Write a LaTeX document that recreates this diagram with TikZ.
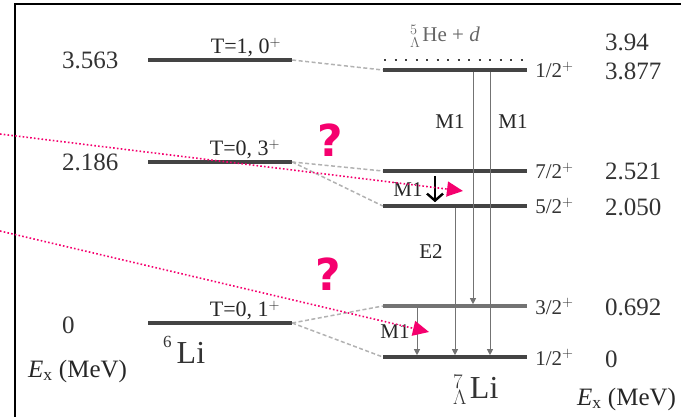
\documentclass[tikz,border=0pt]{standalone}
\usepackage{fontspec}
\setmainfont{Liberation Serif}
\newfontfamily\qmarkfont{DejaVu Sans}
\usepackage{tikz}
\usetikzlibrary{arrows.meta,positioning,calc}
\usepackage{xcolor}
\definecolor{qpink}{RGB}{245,0,110}
\definecolor{lvlgray}{RGB}{68,68,68}
\newcommand{\setfs}[1]{\fontsize{#1}{#1}\selectfont}
\tikzset{
  lvl/.style   ={rectangle, fill=lvlgray, minimum width=144pt,
                 minimum height=3.2pt, inner sep=0pt},
  thr/.style   ={line width=2pt, dash pattern=on 2pt off 8.5pt, draw=black!75},
  lnk/.style   ={draw=black!30, line width=1.5pt, dash pattern=on 4pt off 2.5pt},
  trans/.style ={draw=black!55, line width=0.9pt, -{Triangle[length=6pt,width=6pt]}},
  bigarr/.style={draw=black, line width=2.4pt, -{Straight Barb[length=7pt,width=16pt]}},
  qline/.style ={draw=qpink, line width=1.6pt, dash pattern=on 1.6pt off 2.2pt,
                 -{Triangle[length=16pt,width=15pt]}},
  elab/.style  ={font=\setfs{25}, text=black!80, inner sep=0pt},
  jlab/.style  ={font=\setfs{21}, text=black!80, inner sep=0pt},
  tlab/.style  ={font=\setfs{22}, text=black!85, inner sep=0pt},
  mlab/.style  ={font=\setfs{21}, text=black!85, inner sep=0pt},
  qmark/.style ={font=\qmarkfont\bfseries\setfs{44}, text=qpink, inner sep=0pt},
}

\begin{document}
\begin{tikzpicture}[x=1pt, y=-1pt]
  \useasboundingbox (0,0) rectangle (681,417);
  \draw[line width=2pt] (15,417) -- (15,4) -- (681,4);

  % 6Li levels
  \node[lvl] (li3) at (220,60)  {};
  \node[lvl] (li2) at (220,162) {};
  \node[lvl] (li0) at (220,323) {};
  % 7ΛLi levels
  \node[lvl] (ym) at (455,70)  {};
  \node[lvl] (yf) at (455,171) {};
  \node[lvl] (ye) at (455,206) {};
  \node[lvl, fill=black!55] (yc) at (455,306) {};
  \node[lvl] (yg) at (455,357) {};
  \coordinate (thrL) at (384,60);
  \coordinate (thrR) at (524,60);
  \draw[thr] (thrL) -- (thrR);

  % correspondence
  \draw[lnk] (li3.east) -- (ym.west);
  \draw[lnk] (li2.east) -- (yf.west);
  \draw[lnk] (li2.east) -- (ye.west);
  \draw[lnk] (li0.east) -- (yc.west);
  \draw[lnk] (li0.east) -- (yg.west);

  % gamma transitions
  \draw[trans] ([xshift=18pt]ym.south)  -- ([xshift=18pt]yc.north);
  \draw[trans] ([xshift=35pt]ym.south)  -- ([xshift=35pt]yg.north);
  \draw[trans] (ye.south)               -- (yg.north);
  \draw[trans] ([xshift=-38pt]yc.south) -- ([xshift=-38pt]yg.north);
  \draw[bigarr] ([xshift=-20pt,yshift=-3pt]yf.south) -- ([xshift=-20pt,yshift=2pt]ye.north);

  \node[mlab] (m1a) at (450,122) {M1};
  \node[mlab] (m1b) at (513,122) {M1};
  \node[mlab] (m1c) at (408,190) {M1};
  \node[mlab] (e2)  at (431,252) {E2};
  \node[mlab] (m1d) at (395,332) {M1};

  % left labels
  \node[elab, anchor=west] (e3563) at (62,60)  {3.563};
  \node[elab, anchor=west] (e2186) at (62,162) {2.186};
  \node[elab, anchor=west] (e0l)   at (62,325) {0};
  \node[tlab, font=\setfs{25}, anchor=base west] (exl) at (28,377) {\textit{E}\textsubscript{x} (MeV)};
  \node[tlab, above=1pt of li3, xshift=26pt] (t3) {T=1, 0$^{+}$};
  \node[tlab, above=1pt of li2, xshift=25pt] (t2) {T=0, 3$^{+}$};
  \node[tlab, above=1pt of li0, xshift=25pt] (t0) {T=0, 1$^{+}$};
  \node[anchor=base west, inner sep=0pt, font=\setfs{32}, text=black!80] (li6)
    at (163,363) {\raisebox{16pt}{\setfs{17}6}\hspace{5pt}Li};

  % right labels
  \node[anchor=base west, inner sep=0pt, font=\setfs{21}, text=black!60] (he5)
    at (410,42) {${}^{5}_{\Lambda}$\hspace{2pt}He + \textit{d}};
  \node[jlab, anchor=base west] (j1) at ([xshift=8pt,yshift=-8pt]ym.east) {1/2$^{+}$};
  \node[jlab, anchor=base west] (j7) at ([xshift=8pt,yshift=-8pt]yf.east) {7/2$^{+}$};
  \node[jlab, anchor=base west] (j5) at ([xshift=8pt,yshift=-8pt]ye.east) {5/2$^{+}$};
  \node[jlab, anchor=base west] (j3) at ([xshift=8pt,yshift=-8pt]yc.east) {3/2$^{+}$};
  \node[jlab, anchor=base west] (jg) at ([xshift=8pt,yshift=-8pt]yg.east) {1/2$^{+}$};
  \node[elab, anchor=west] (e394)  at (605,42)  {3.94};
  \node[elab, anchor=west] (e3877) at (605,71)  {3.877};
  \node[elab, anchor=west] (e2521) at (605,171) {2.521};
  \node[elab, anchor=west] (e2050) at (605,207) {2.050};
  \node[elab, anchor=west] (e0692) at (605,307) {0.692};
  \node[elab, anchor=west] (e0r)   at (605,359) {0};
  \node[tlab, font=\setfs{25}, anchor=base west] (exr) at (577,405) {\textit{E}\textsubscript{x} (MeV)};
  \node[anchor=base west, inner sep=0pt, font=\setfs{32}, text=black!80] (li7)
    at (453,398) {${}^{7}_{\Lambda}$\hspace{3pt}Li};

  % questions
  \coordinate (q1s) at (0,134);
  \coordinate (q1e) at (463,191);
  \coordinate (q2s) at (0,231);
  \coordinate (q2e) at (429,332);
  \draw[qline] (q1s) -- (q1e);
  \draw[qline] (q2s) -- (q2e);
  \node[qmark] (qa) at (330,140) {?};
  \node[qmark] (qb) at (328,274) {?};
\end{tikzpicture}
\end{document}
